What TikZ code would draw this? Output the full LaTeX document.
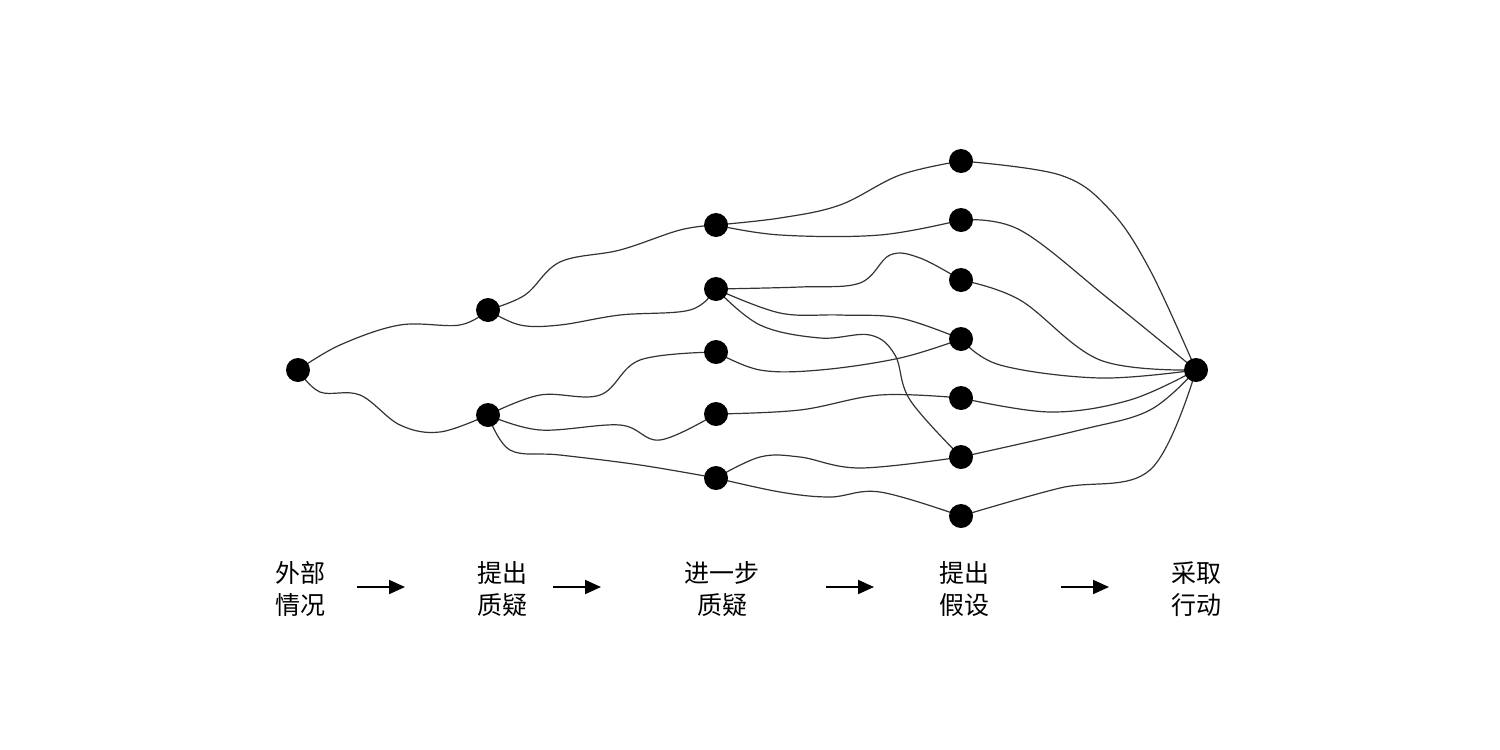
\documentclass[tikz,border=0pt]{standalone}
\usepackage{fontspec}
\setmainfont{Noto Sans CJK SC}
\usetikzlibrary{arrows.meta}
\pgfdeclarelayer{bg}\pgfsetlayers{bg,main}
\begin{document}
\begin{tikzpicture}[x=0.5pt,y=-0.5pt,
  dot/.style={circle,fill=black,inner sep=0,minimum size=12pt},
  edge/.style={draw=black!80,line width=0.6pt},
  lab/.style={align=center,font=\fontsize{12.5pt}{16pt}\selectfont},
  flow/.style={-{Triangle[length=8pt,width=7pt]},line width=1pt}]
\useasboundingbox (0,0) rectangle (1500,750);
\node[dot] (A) at (298,370) {};
\node[dot] (B1) at (488,310) {};
\node[dot] (B2) at (488,415) {};
\node[dot] (C1) at (716,225) {};
\node[dot] (C2) at (716,289) {};
\node[dot] (C3) at (716,352) {};
\node[dot] (C4) at (716,414) {};
\node[dot] (C5) at (716,478) {};
\node[dot] (D1) at (961,161) {};
\node[dot] (D2) at (961,220) {};
\node[dot] (D3) at (961,280) {};
\node[dot] (D4) at (961,339) {};
\node[dot] (D5) at (961,398) {};
\node[dot] (D6) at (961,457) {};
\node[dot] (D7) at (961,516) {};
\node[dot] (E) at (1196,370) {};
\begin{pgfonlayer}{bg}
\def\e#1{\draw[edge] plot[smooth,tension=0.6] coordinates {#1};}
\e{(A) (340,345) (400,325) (460,325) (B1)}
\e{(A) (320,392) (360,395) (400,425) (440,432) (B2)}
\e{(B1) (525,295) (560,262) (620,250) (680,230) (C1)}
\e{(B1) (520,325) (560,325) (620,315) (690,310) (C2)}
\e{(B2) (540,395) (600,395) (640,360) (C3)}
\e{(B2) (540,430) (620,425) (660,440) (C4)}
\e{(B2) (510,450) (560,455) (640,465) (C5)}
\e{(C1) (780,218) (840,205) (900,175) (D1)}
\e{(C1) (780,235) (880,235) (D2)}
\e{(C2) (800,287) (860,283) (890,255) (920,258) (D3)}
\e{(C2) (780,313) (840,315) (900,318) (D4)}
\e{(C2) (760,325) (820,338) (870,335) (895,355) (910,400) (D6)}
\e{(C3) (760,370) (820,370) (900,358) (D4)}
\e{(C4) (800,410) (880,395) (D5)}
\e{(C5) (760,457) (800,457) (860,468) (D6)}
\e{(C5) (780,492) (830,497) (880,492) (D7)}
\e{(D1) (1060,175) (1110,210) (1150,270) (E)}
\e{(D2) (1020,230) (1110,300) (E)}
\e{(D3) (1020,300) (1100,360) (E)}
\e{(D4) (1000,365) (1100,378) (E)}
\e{(D5) (1050,412) (1130,400) (E)}
\e{(D6) (1080,430) (1150,410) (E)}
\e{(D7) (1060,488) (1150,470) (E)}
\end{pgfonlayer}
\node[lab] (L1) at (300,589) {外部\\情况};
\node[lab] (L2) at (502,589) {提出\\质疑};
\node[lab] (L3) at (722,589) {进一步\\质疑};
\node[lab] (L4) at (964,589) {提出\\假设};
\node[lab] (L5) at (1196,589) {采取\\行动};
\draw[flow] (357,587) -- (405,587);
\draw[flow] (553,587) -- (601,587);
\draw[flow] (826,587) -- (874,587);
\draw[flow] (1061,587) -- (1109,587);
\end{tikzpicture}
\end{document}
